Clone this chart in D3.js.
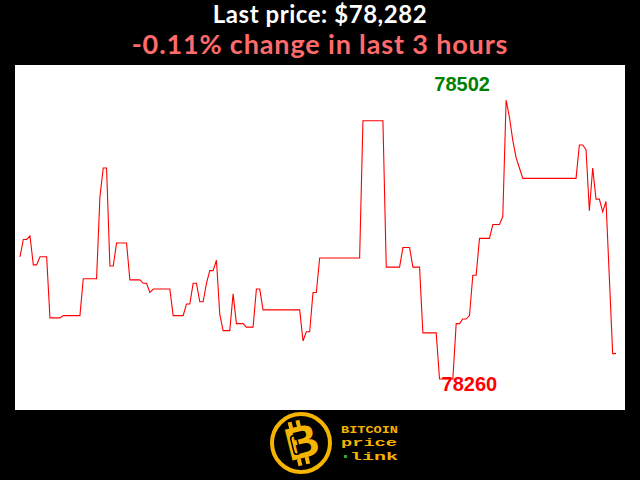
<!DOCTYPE html>
<html>
<head>
<meta charset="utf-8">
<script src="https://cdn.jsdelivr.net/npm/d3@7"></script>
<style>
  html, body { margin: 0; padding: 0; background: #000; }
  svg { display: block; }
</style>
</head>
<body>
<svg id="chart" width="640" height="480"></svg>
<script>
// Minute index (0..179 over the last 3 hours) at each vertex of the price line
const minutes = [0,1,2,3,4,5,6,8,9,12,13,18,19,23,24,25,26,27,28,29,32,33,36,37,38,39,40,45,46,49,50,51,52,53,54,55,56,57,58,59,60,61,63,64,65,67,68,70,71,72,73,84,85,86,87,88,89,90,102,103,109,110,114,115,117,118,120,121,125,126,130,131,132,133,134,135,136,137,138,141,142,144,145,146,147,148,149,150,151,167,168,169,170,171,172,173,174,175,176,178,179];
// BTC price (USD) at those vertices
const prices = [78366,78381,78381,78384,78359,78359,78366,78366,78313,78313,78315,78315,78347,78347,78418,78443,78443,78358,78358,78378,78378,78346,78346,78343,78343,78335,78338,78338,78315,78315,78325,78325,78343,78343,78327,78327,78343,78354,78354,78363,78316,78302,78302,78334,78308,78308,78305,78305,78338,78338,78320,78320,78293,78301,78301,78335,78335,78365,78365,78484,78484,78357,78357,78374,78374,78357,78357,78300,78300,78260,78260,78308,78308,78312,78312,78315,78350,78350,78382,78382,78394,78394,78401,78502,78487,78467,78452,78443,78434,78434,78463,78463,78459,78406,78443,78416,78416,78405,78414,78282,78282];
const totalMinutes = 179;
const hoursWindow = 3;
const logoLines = ["BITCOIN", "price", "link"];

const data = minutes.map((m, i) => ({ m, p: prices[i] }));
const svg = d3.select("#chart");

svg.append("rect").attr("x", 0).attr("y", 0).attr("width", 640).attr("height", 480).attr("fill", "#000");
svg.append("rect").attr("x", 15).attr("y", 65).attr("width", 610).attr("height", 345).attr("fill", "#fff");

const x = d3.scaleLinear().domain([0, totalMinutes]).range([20, 616]);
const [minP, maxP] = d3.extent(prices);
const y = d3.scaleLinear().domain([minP, maxP]).range([379, 100]);

svg.append("path")
  .datum(data)
  .attr("fill", "none")
  .attr("stroke", "#ff0000")
  .attr("stroke-width", 1.1)
  .attr("d", d3.line().x(d => x(d.m)).y(d => y(d.p)));

const maxD = data.find(d => d.p === maxP);
const minD = data.find(d => d.p === minP);

svg.append("text")
  .attr("x", x(maxD.m) - 44).attr("y", y(maxD.p) - 9)
  .attr("text-anchor", "middle")
  .attr("font-family", "Liberation Sans, Arial, sans-serif")
  .attr("font-weight", "bold").attr("font-size", 20)
  .attr("fill", "#008000")
  .text(maxP);

svg.append("text")
  .attr("x", x(minD.m) + 2).attr("y", y(minD.p) + 12)
  .attr("text-anchor", "start")
  .attr("font-family", "Liberation Sans, Arial, sans-serif")
  .attr("font-weight", "bold").attr("font-size", 20)
  .attr("fill", "#ff0000")
  .text(minP);

// Titles
const last = prices[prices.length - 1];
const first = prices[0];
const pct = (last - first) / first * 100;
svg.append("text")
  .attr("x", 320).attr("y", 23)
  .attr("text-anchor", "middle")
  .attr("font-family", "Lato, sans-serif")
  .attr("font-weight", "bold").attr("font-size", 24)
  .attr("letter-spacing", 0.55)
  .attr("fill", "#fff")
  .text("Last price: $" + d3.format(",")(last));
svg.append("text")
  .attr("x", 320).attr("y", 54)
  .attr("text-anchor", "middle")
  .attr("font-family", "Lato, sans-serif")
  .attr("font-weight", "bold").attr("font-size", 27)
  .attr("letter-spacing", 0.85)
  .attr("fill", "#ff6b6b")
  .text(pct.toFixed(2) + "% change in last " + hoursWindow + " hours");

// Logo
const gold = "#f5b400";
const logo = svg.append("g").attr("transform", "translate(301,443)");
logo.append("circle").attr("r", 29).attr("fill", "#000").attr("stroke", gold).attr("stroke-width", 4);
const bg = logo.append("g").attr("transform", "rotate(-14)");
bg.append("text")
  .attr("x", 1).attr("y", 15)
  .attr("text-anchor", "middle")
  .attr("font-family", "Liberation Sans, Arial, sans-serif")
  .attr("font-weight", "bold").attr("font-size", 46)
  .attr("fill", gold)
  .text("B");
[-8, 0].forEach(dx => {
  bg.append("rect").attr("x", dx).attr("y", -23).attr("width", 4).attr("height", 7).attr("fill", gold);
  bg.append("rect").attr("x", dx).attr("y", 15).attr("width", 4).attr("height", 7).attr("fill", gold);
});
bg.append("rect").attr("x", -9).attr("y", -9).attr("width", 6).attr("height", 19).attr("rx", 3)
  .attr("fill", "none").attr("stroke", "#000").attr("stroke-width", 1.5);

const logoFmt = [
  { x: 341, y: 433, w: 57, size: 11.5 },
  { x: 341, y: 446, w: 56, size: 11.5 },
  { x: 350, y: 459.5, w: 48, size: 11.5 }
];
logoLines.forEach((t, i) => {
  const f = logoFmt[i];
  svg.append("text")
    .attr("x", f.x).attr("y", f.y)
    .attr("textLength", f.w).attr("lengthAdjust", "spacingAndGlyphs")
    .attr("font-family", "Liberation Mono, Courier New, monospace")
    .attr("font-weight", "bold").attr("font-size", f.size)
    .attr("fill", gold)
    .text(t);
});
svg.append("rect").attr("x", 344).attr("y", 455).attr("width", 3).attr("height", 3).attr("fill", "#2ea82e");
</script>
</body>
</html>
